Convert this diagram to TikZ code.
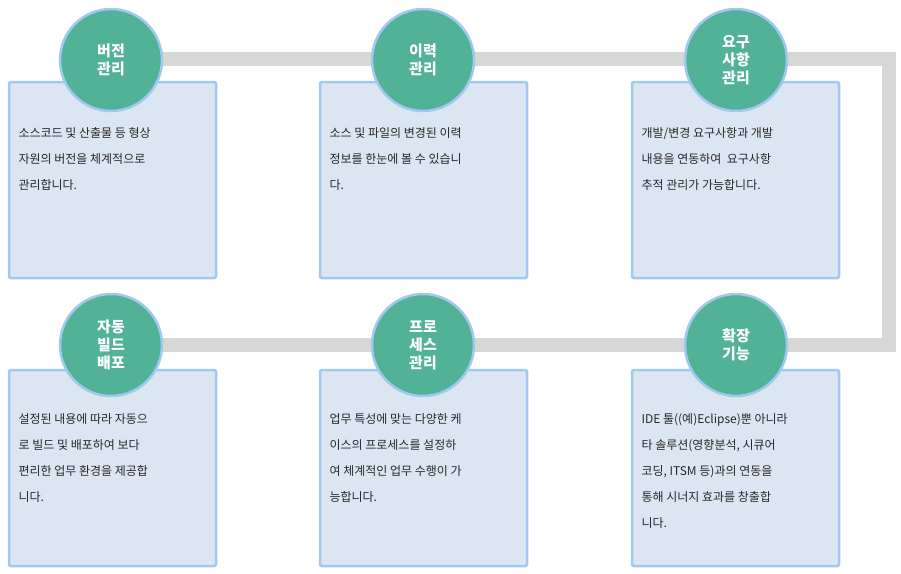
\documentclass[tikz,border=0pt]{standalone}
\usepackage{fontspec}
\setmainfont{Noto Sans CJK KR}
\definecolor{barc}{RGB}{215,215,215}
\definecolor{boxf}{RGB}{220,230,242}
\definecolor{boxd}{RGB}{160,200,240}
\definecolor{circf}{RGB}{82,178,152}
\definecolor{txt}{RGB}{40,40,40}
\begin{document}
\begin{tikzpicture}[x=1pt,y=-1pt,
  box/.style={draw=boxd, line width=2.5pt, fill=boxf, rounded corners=1.5pt},
  circ/.style={circle, draw=boxd, line width=2.5pt, fill=circf, minimum size=102pt, text=white, font=\fontsize{15}{18}\selectfont\bfseries, align=center},
  desc/.style={anchor=north west, align=left, text=txt, font=\fontsize{12}{26}\selectfont}]
\useasboundingbox (0,0) rectangle (901,573);
\coordinate (r1) at (889,59);
\coordinate (r2) at (889,345);
\draw[line width=14pt, barc] (111,59) -- (r1) -- (r2) -- (111,345);
\foreach \x/\n in {9/a,320/b,632/c}{
  \draw[box] (\x,82) rectangle ++(207,196);
  \draw[box] (\x,370) rectangle ++(207,196);
}
\node[circ] (c1) at (111,60) {버전\\관리};
\node[circ] (c2) at (423,60) {이력\\관리};
\node[circ] (c3) at (736,60) {요구\\사항\\관리};
\node[circ] (c4) at (111,345) {자동\\빌드\\배포};
\node[circ] (c5) at (423,345) {프로\\세스\\관리};
\node[circ] (c6) at (736,345) {확장\\기능};
\node[desc] (t1) at (15,124) {소스코드 및 산출물 등 형상\\자원의 버전을 체계적으로\\관리합니다.};
\node[desc] (t2) at (326,124) {소스 및 파일의 변경된 이력\\정보를 한눈에 볼 수 있습니\\다.};
\node[desc] (t3) at (638,124) {개발/변경 요구사항과 개발\\내용을 연동하여\ \ 요구사항\\추적 관리가 가능합니다.};
\node[desc] (t4) at (15,410) {설정된 내용에 따라 자동으\\로 빌드 및 배포하여 보다\\편리한 업무 환경을 제공합\\니다.};
\node[desc] (t5) at (326,410) {업무 특성에 맞는 다양한 케\\이스의 프로세스를 설정하\\여 체계적인 업무 수행이 가\\능합니다.};
\node[desc] (t6) at (638,410) {IDE 툴((예)Eclipse)뿐 아니라\\타 솔루션(영향분석, 시큐어\\코딩, ITSM 등)과의 연동을\\통해 시너지 효과를 창출합\\니다.};
\end{tikzpicture}
\end{document}
